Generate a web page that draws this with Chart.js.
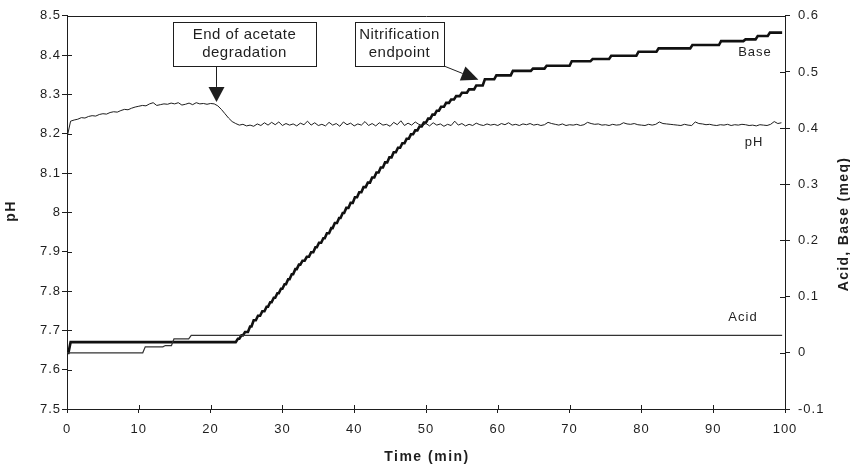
<!DOCTYPE html>
<html>
<head>
<meta charset="utf-8">
<script src="https://cdn.jsdelivr.net/npm/chart.js@4.4.1/dist/chart.umd.min.js"></script>
<style>
  body { margin: 0; background: #fff; }
</style>
</head>
<body>
<canvas id="myChart" width="850" height="468"></canvas>
<script>
// data block - pH sampled every 0.5 min
const phStep = 0.5;
const phValues = [
  8.190, 8.232, 8.235, 8.237, 8.241, 8.240, 8.244, 8.246, 8.245, 8.249, // 0
  8.251, 8.250, 8.254, 8.256, 8.255, 8.259, 8.262, 8.261, 8.265, 8.268, // 5
  8.270, 8.272, 8.271, 8.276, 8.279, 8.272, 8.274, 8.276, 8.275, 8.278, // 10
  8.276, 8.279, 8.273, 8.275, 8.278, 8.274, 8.279, 8.276, 8.277, 8.275, // 15
  8.277, 8.276, 8.271, 8.262, 8.251, 8.240, 8.231, 8.226, 8.222, 8.224, // 20
  8.220, 8.222, 8.219, 8.225, 8.221, 8.228, 8.222, 8.229, 8.223, 8.230, // 25
  8.221, 8.226, 8.222, 8.225, 8.220, 8.227, 8.223, 8.232, 8.222, 8.228, // 30
  8.221, 8.224, 8.220, 8.229, 8.222, 8.226, 8.219, 8.230, 8.223, 8.227, // 35
  8.220, 8.225, 8.222, 8.231, 8.221, 8.226, 8.220, 8.228, 8.222, 8.224, // 40
  8.219, 8.229, 8.223, 8.233, 8.221, 8.227, 8.222, 8.230, 8.224, 8.221, // 45
  8.226, 8.220, 8.228, 8.222, 8.225, 8.219, 8.224, 8.221, 8.232, 8.222, // 50
  8.226, 8.220, 8.224, 8.221, 8.227, 8.223, 8.221, 8.225, 8.222, 8.224, // 55
  8.221, 8.226, 8.223, 8.228, 8.222, 8.224, 8.221, 8.225, 8.223, 8.226, // 60
  8.222, 8.224, 8.221, 8.223, 8.229, 8.226, 8.224, 8.222, 8.225, 8.221, // 65
  8.223, 8.222, 8.224, 8.221, 8.223, 8.229, 8.226, 8.224, 8.225, 8.222, // 70
  8.223, 8.221, 8.224, 8.222, 8.223, 8.228, 8.225, 8.224, 8.226, 8.223, // 75
  8.222, 8.221, 8.224, 8.222, 8.224, 8.230, 8.226, 8.225, 8.224, 8.223, // 80
  8.222, 8.221, 8.224, 8.222, 8.221, 8.230, 8.226, 8.225, 8.223, 8.224, // 85
  8.222, 8.221, 8.223, 8.222, 8.224, 8.221, 8.223, 8.222, 8.224, 8.223, // 90
  8.221, 8.222, 8.220, 8.223, 8.222, 8.221, 8.224, 8.231, 8.226, 8.228  // 95
];
const phTime = phValues.map((v, i) => i * phStep);

// acid and base dosing (meq), step points
const acidTime = [0, 10.9, 13.7, 14.9, 17.3, 99.6];
const acidValues = [0, 0.0106, 0.013, 0.025, 0.031, 0.031];

const baseTime = [
  0, 0.5, 23.8, 24.3, 24.8, 25.5, 26.0, 26.6, 27.2, 27.8,
  28.3, 28.8, 29.3, 29.8, 30.3, 30.8, 31.3, 31.8, 32.3, 32.8,
  33.4, 34.0, 34.6, 35.1, 35.7, 36.2, 36.8, 37.3, 37.9, 38.4,
  38.9, 39.5, 40.1, 40.7, 41.3, 41.9, 42.5, 43.1, 43.7, 44.3,
  44.9, 45.5, 46.1, 46.7, 47.3, 47.9, 48.5, 49.1, 49.7, 50.3,
  50.9, 51.5, 52.1, 52.8, 53.5, 54.2, 55.0, 56.0, 57.0, 58.2,
  59.8, 62.1, 64.9, 66.8, 70.3, 73.2, 75.8, 79.6, 82.4, 87.1,
  91.1, 94.5, 96.2, 97.9, 99.6
];
const baseValues = [
  0, 0.019, 0.025, 0.031, 0.037, 0.047, 0.058, 0.066, 0.074, 0.082,
  0.090, 0.098, 0.106, 0.114, 0.122, 0.131, 0.140, 0.149, 0.157, 0.164,
  0.171, 0.179, 0.188, 0.196, 0.204, 0.213, 0.222, 0.231, 0.240, 0.249,
  0.258, 0.267, 0.277, 0.286, 0.295, 0.303, 0.312, 0.321, 0.330, 0.339,
  0.348, 0.357, 0.365, 0.373, 0.381, 0.389, 0.396, 0.403, 0.410, 0.417,
  0.424, 0.431, 0.438, 0.445, 0.451, 0.457, 0.463, 0.469, 0.476, 0.487,
  0.494, 0.502, 0.506, 0.511, 0.519, 0.523, 0.529, 0.536, 0.542, 0.548,
  0.555, 0.558, 0.564, 0.570, 0.570
];

const timeTicks = [0, 10, 20, 30, 40, 50, 60, 70, 80, 90, 100];
const phTicks = [7.5, 7.6, 7.7, 7.8, 7.9, 8, 8.1, 8.2, 8.3, 8.4, 8.5];
const meqTicks = [-0.1, 0, 0.1, 0.2, 0.3, 0.4, 0.5, 0.6];

const toPoints = (xs, ys) => xs.map((t, i) => ({ x: t, y: ys[i] }));
// dosing steps: hold the previous value, then a short ramp up to the new one
const toSteps = (xs, ys, ramp) => {
  const pts = [{ x: xs[0], y: ys[0] }];
  for (let i = 1; i < xs.length; i++) {
    pts.push({ x: xs[i] - ramp, y: ys[i - 1] }, { x: xs[i], y: ys[i] });
  }
  return pts;
};

const INK = "#1e1e1e";
const FONT = "'Liberation Sans', Arial, sans-serif";

// inward tick marks + top frame line
const frameTicks = {
  id: "frameTicks",
  beforeDraw: (chart) => {
    chart.ctx.letterSpacing = "1px";
  },
  afterDraw: (chart) => {
    const { ctx, chartArea: { left, right, top, bottom }, scales: { x, y, y1 } } = chart;
    ctx.save();
    ctx.strokeStyle = INK;
    ctx.lineWidth = 1;
    ctx.beginPath();
    ctx.moveTo(left, Math.round(top) + 0.5);
    ctx.lineTo(right + 1, Math.round(top) + 0.5);
    x.ticks.forEach((t) => {
      const px = Math.round(x.getPixelForValue(t.value)) + 0.5;
      ctx.moveTo(px, bottom);
      ctx.lineTo(px, bottom - 4);
    });
    y.ticks.forEach((t) => {
      const py = Math.round(y.getPixelForValue(t.value)) + 0.5;
      ctx.moveTo(left, py);
      ctx.lineTo(left + 5, py);
    });
    y1.ticks.forEach((t) => {
      const py = Math.round(y1.getPixelForValue(t.value)) + 0.5;
      ctx.moveTo(right, py);
      ctx.lineTo(right - 5, py);
    });
    ctx.stroke();
    ctx.restore();
  },
};

// labels, axis titles and the two arrows
const annotations = {
  id: "annotations",
  afterDraw: (chart) => {
    const { ctx, scales: { x, y, y1 } } = chart;
    ctx.save();
    ctx.fillStyle = INK;
    ctx.strokeStyle = INK;
    ctx.textAlign = "center";
    ctx.textBaseline = "middle";

    // series labels
    ctx.letterSpacing = "1px";
    ctx.font = "13px " + FONT;
    ctx.fillText("Base", 755, 52);
    ctx.fillText("pH", 754, 142);
    ctx.fillText("Acid", 743, 317);

    // axis titles
    ctx.font = "bold 14px " + FONT;
    ctx.letterSpacing = "1.5px";
    ctx.fillText("Time (min)", 427, 457);
    ctx.save();
    ctx.translate(11, 211);
    ctx.rotate(-Math.PI / 2);
    ctx.fillText("pH", 0, 0);
    ctx.restore();
    ctx.save();
    ctx.translate(844, 224);
    ctx.rotate(-Math.PI / 2);
    ctx.letterSpacing = "1.3px";
    ctx.fillText("Acid, Base (meq)", 0, 0);
    ctx.restore();

    // boxes
    ctx.font = "15px " + FONT;
    ctx.letterSpacing = "0.5px";
    ctx.lineWidth = 1;
    const drawBox = (l, t, w, h, lines) => {
      ctx.fillStyle = "#fff";
      ctx.fillRect(l, t, w, h);
      ctx.strokeRect(l + 0.5, t + 0.5, w, h);
      ctx.fillStyle = INK;
      lines.forEach((s, i) => ctx.fillText(s, l + w / 2, t + 13 + i * 18));
    };
    const arrow = (fx, fy, tx, ty, len, half) => {
      const a = Math.atan2(ty - fy, tx - fx);
      const bx = tx - len * Math.cos(a);
      const by = ty - len * Math.sin(a);
      ctx.beginPath();
      ctx.moveTo(fx, fy);
      ctx.lineTo(bx, by);
      ctx.stroke();
      ctx.beginPath();
      ctx.moveTo(tx, ty);
      ctx.lineTo(bx + half * Math.sin(a), by - half * Math.cos(a));
      ctx.lineTo(bx - half * Math.sin(a), by + half * Math.cos(a));
      ctx.closePath();
      ctx.fill();
    };

    const tip1x = Math.round(x.getPixelForValue(20.8)) + 0.5;
    const tip1y = y.getPixelForValue(8.281);
    drawBox(173, 22, 143, 44, ["End of acetate", "degradation"]);
    arrow(tip1x, 66, tip1x, tip1y, 15, 8);

    const tip2x = x.getPixelForValue(57.3);
    const tip2y = y1.getPixelForValue(0.486);
    drawBox(355, 22, 89, 44, ["Nitrification", "endpoint"]);
    arrow(444, 66, tip2x, tip2y, 17, 7.5);

    ctx.restore();
  },
};

const data = {
  datasets: [
    {
      label: "pH",
      data: toPoints(phTime, phValues),
      yAxisID: "y",
      borderColor: INK,
      borderWidth: 1,
      pointRadius: 0,
    },
    {
      label: "Acid",
      data: toSteps(acidTime, acidValues, 0.35),
      yAxisID: "y1",
      borderColor: "#333",
      borderWidth: 1.2,
      pointRadius: 0,
    },
    {
      label: "Base",
      data: toSteps(baseTime, baseValues, 0.3),
      yAxisID: "y1",
      borderColor: "#111",
      borderWidth: 2.6,
      pointRadius: 0,
    },
  ],
};

const tickFont = { family: FONT, size: 13 };

const config = {
  type: "line",
  data: data,
  options: {
    responsive: false,
    animation: false,
    devicePixelRatio: 1,
    layout: { padding: { top: 15, left: 0, right: 0, bottom: 0 } },
    plugins: { legend: { display: false }, tooltip: { enabled: false } },
    scales: {
      x: {
        type: "linear",
        min: 0,
        max: 100,
        afterBuildTicks: (s) => { s.ticks = timeTicks.map((v) => ({ value: v })); },
        afterFit: (s) => { s.height = 59; },
        ticks: { font: tickFont, color: INK, padding: 9, maxRotation: 0, autoSkip: false },
        grid: { drawOnChartArea: false, tickLength: 4, color: INK },
        border: { color: INK, width: 1 },
      },
      y: {
        position: "left",
        min: 7.5,
        max: 8.5,
        afterBuildTicks: (s) => { s.ticks = phTicks.map((v) => ({ value: v })); },
        afterFit: (s) => { s.width = 67; },
        ticks: { font: tickFont, color: INK, padding: 1, callback: (v) => String(Math.round(v * 10) / 10) },
        grid: { drawOnChartArea: false, tickLength: 5, color: INK },
        border: { color: INK, width: 1 },
      },
      y1: {
        position: "right",
        min: -0.1,
        max: 0.6,
        afterBuildTicks: (s) => { s.ticks = meqTicks.map((v) => ({ value: v })); },
        afterFit: (s) => { s.width = 65; },
        ticks: { font: tickFont, color: INK, padding: 8, callback: (v) => String(Math.round(v * 10) / 10) },
        grid: { drawOnChartArea: false, tickLength: 5, color: INK },
        border: { color: INK, width: 1 },
      },
    },
  },
  plugins: [frameTicks, annotations],
};

const myChart = new Chart(document.getElementById("myChart"), config);
</script>
</body>
</html>
